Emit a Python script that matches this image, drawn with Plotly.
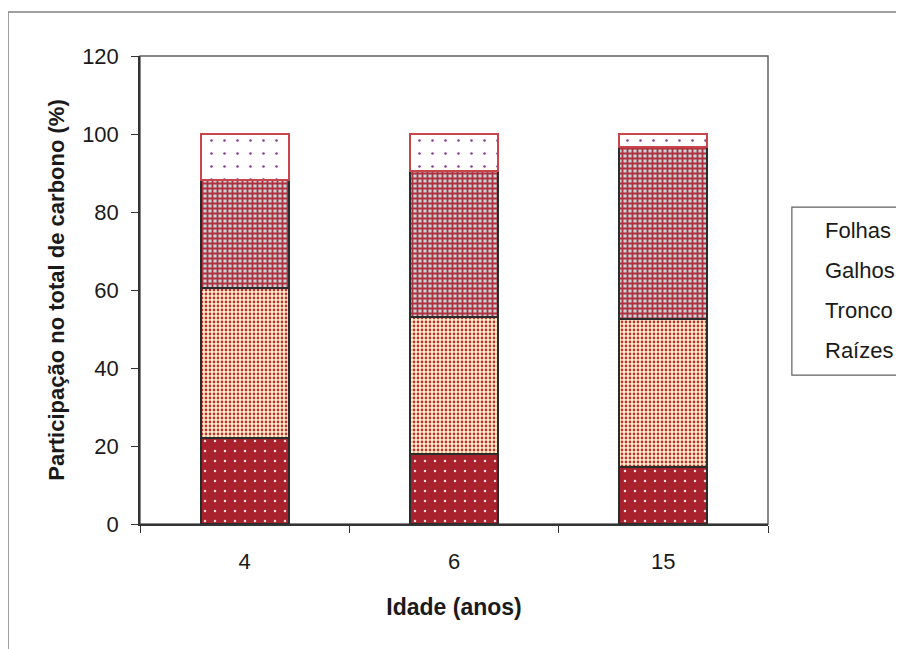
import plotly.graph_objects as go

idades = ["4", "6", "15"]
raizes = [22.0, 18.0, 14.6]
tronco = [38.5, 35.1, 38.0]
galhos = [27.7, 37.4, 44.1]
folhas = [11.8, 9.5, 3.3]

series_names = ["Raízes", "Tronco", "Galhos", "Folhas"]
y_ticks = [0, 20, 40, 60, 80, 100, 120]

FONT = "Liberation Sans, Arial, sans-serif"

styles = {
    "Raízes": dict(bg="#A8222E", fg="#F4DADC", shape=".", size=10, solidity=0.05, line="#2b2b2b"),
    "Tronco": dict(bg="#FFF3C8", fg="#C0303A", shape=".", size=4, solidity=0.38, line="#2b2b2b"),
    "Galhos": dict(bg="#C4D6D8", fg="#B03040", shape="+", size=5, solidity=0.6, line="#2b2b2b"),
    "Folhas": dict(bg="#FFFFFF", fg="#8A3A9A", shape=".", size=13, solidity=0.03, line="#C8464B"),
}

data = {"Raízes": raizes, "Tronco": tronco, "Galhos": galhos, "Folhas": folhas}

fig = go.Figure()
for name in series_names:
    s = styles[name]
    fig.add_trace(go.Bar(
        x=idades, y=data[name], name=name,
        width=0.42,
        marker=dict(
            color=s["bg"],
            line=dict(color=s["line"], width=2),
            pattern=dict(shape=s["shape"], bgcolor=s["bg"], fgcolor=s["fg"],
                         size=s["size"], solidity=s["solidity"], fillmode="replace"),
        ),
        showlegend=False,
    ))

fig.update_layout(
    barmode="stack",
    width=896, height=641,
    margin=dict(l=132, r=136, t=48, b=125),
    paper_bgcolor="white", plot_bgcolor="white",
    font=dict(family=FONT, size=22, color="#1a1a1a"),
)

fig.update_xaxes(
    type="category",
    showline=True, linecolor="#333333", linewidth=1.5,
    ticks="outside", ticklen=7, tickcolor="#333333", tickson="boundaries",
    showgrid=False,
    tickfont=dict(size=22), ticklabelstandoff=17,
    title=dict(text="<b>Idade (anos)</b>", font=dict(size=23), standoff=26),
)
fig.update_yaxes(
    range=[0, 120], tickvals=y_ticks,
    showline=True, linecolor="#333333", linewidth=1.5,
    ticks="outside", ticklen=7, tickcolor="#333333",
    showgrid=False, zeroline=False,
    tickfont=dict(size=22), ticklabelstandoff=8,
    title=dict(text="<b>Participação no total de carbono (%)</b>", font=dict(size=22), standoff=11),
)

# plot area border (top / right)
fig.add_shape(type="rect", xref="paper", yref="paper", x0=0, y0=0, x1=1, y1=1,
              line=dict(color="#606060", width=1.5), layer="below")
# outer chart frame
fig.add_shape(type="rect", xref="paper", yref="paper", x0=-0.2102, y0=-0.6, x1=1.4, y1=1.094,
              line=dict(color="#808080", width=1.5), layer="below")
# legend box
fig.add_shape(type="rect", xref="paper", yref="paper", x0=1.038, y0=0.318, x1=1.4, y1=0.677,
              line=dict(color="#606060", width=1.2), fillcolor="white", layer="above")

legend_y_px = [230, 270, 310, 350]
for name, ypx in zip(series_names[::-1], legend_y_px):
    fig.add_annotation(xref="paper", yref="paper",
                       x=(823 - 140) / 628, y=(524 - ypx) / 468,
                       text=name, showarrow=False, xanchor="left", yanchor="middle",
                       font=dict(size=22, family=FONT, color="#1a1a1a"))

fig.write_html("out.html")
